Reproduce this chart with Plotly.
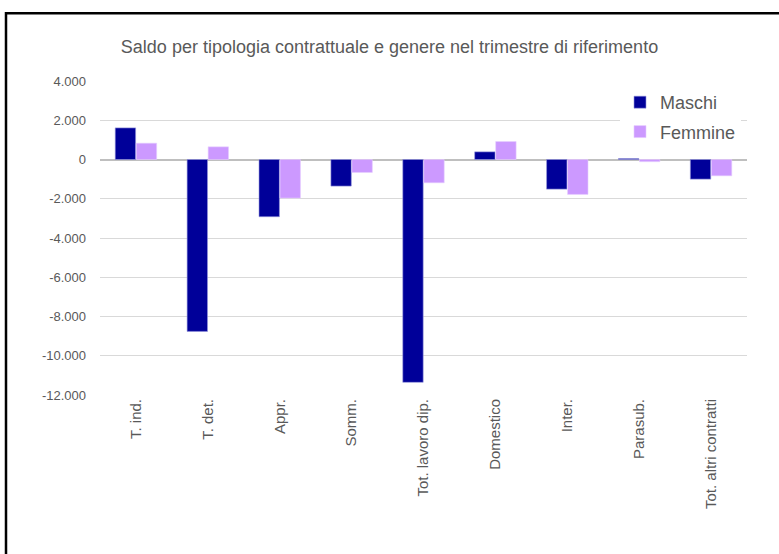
import plotly.graph_objects as go

# Categorie contrattuali (asse x)
categorie = ["T. ind.", "T. det.", "Appr.", "Somm.", "Tot. lavoro dip.",
             "Domestico", "Inter.", "Parasub.", "Tot. altri contratti"]

# Saldo per genere
maschi = [1610, -8760, -2915, -1355, -11355, 390, -1510, 50, -1000]
femmine = [830, 645, -1965, -660, -1186, 915, -1780, -110, -830]

# Valori e etichette dell'asse y
tick_vals = [4000, 2000, 0, -2000, -4000, -6000, -8000, -10000, -12000]
tick_text = [f"{v:,}".replace(",", ".") for v in tick_vals]

GREY = "#595959"
FONT = "Liberation Sans, Arial, sans-serif"

fig = go.Figure()
fig.add_trace(go.Bar(
    x=categorie, y=maschi, name="Maschi", legendgroup="m",
    marker=dict(color="#000099", line=dict(color="#9999dd", width=0.6)),
))
fig.add_trace(go.Bar(
    x=categorie, y=femmine, name="Femmine", legendgroup="f",
    marker=dict(color="#CC99FF", line=dict(color="#e6ccff", width=0.6)),
))

fig.update_layout(
    width=779, height=554,
    margin=dict(l=100, r=32, t=81, b=159),
    paper_bgcolor="white", plot_bgcolor="white",
    font=dict(family=FONT, color=GREY, size=13),
    barmode="group", bargap=0.415, bargroupgap=0.03,
    title=dict(
        text="Saldo per tipologia contrattuale e genere nel trimestre di riferimento",
        x=0.5, xref="container", xanchor="center",
        y=1 - 47 / 554, yref="container", yanchor="middle",
        font=dict(family=FONT, size=18, color=GREY),
    ),
    legend=dict(
        x=(620 - 100) / 647, y=1 - (84 - 81) / 314.6,
        xanchor="left", yanchor="top",
        bgcolor="white", font=dict(family=FONT, size=18, color=GREY),
        tracegroupgap=3, itemwidth=30,
    ),
    showlegend=True,
)

fig.update_xaxes(
    tickangle=-90, showgrid=False, showline=False, ticks="",
    tickfont=dict(family=FONT, size=15, color=GREY),
)
fig.update_yaxes(
    range=[-12000, 4000], tickvals=tick_vals, ticktext=tick_text,
    showgrid=True, gridcolor="#D9D9D9", gridwidth=1,
    zeroline=True, zerolinecolor="#BFBFBF", zerolinewidth=1.5,
    showline=False, ticks="", ticklabelstandoff=13,
    tickfont=dict(family=FONT, size=13, color=GREY),
)

# Cornice esterna del grafico
fig.add_shape(type="rect", xref="paper", yref="paper",
              x0=-94 / 647, x1=1.1, y0=-0.6, y1=1 + (81 - 13) / 314.6,
              line=dict(color="black", width=2.5), fillcolor="rgba(0,0,0,0)")

fig.write_html("out.html")
